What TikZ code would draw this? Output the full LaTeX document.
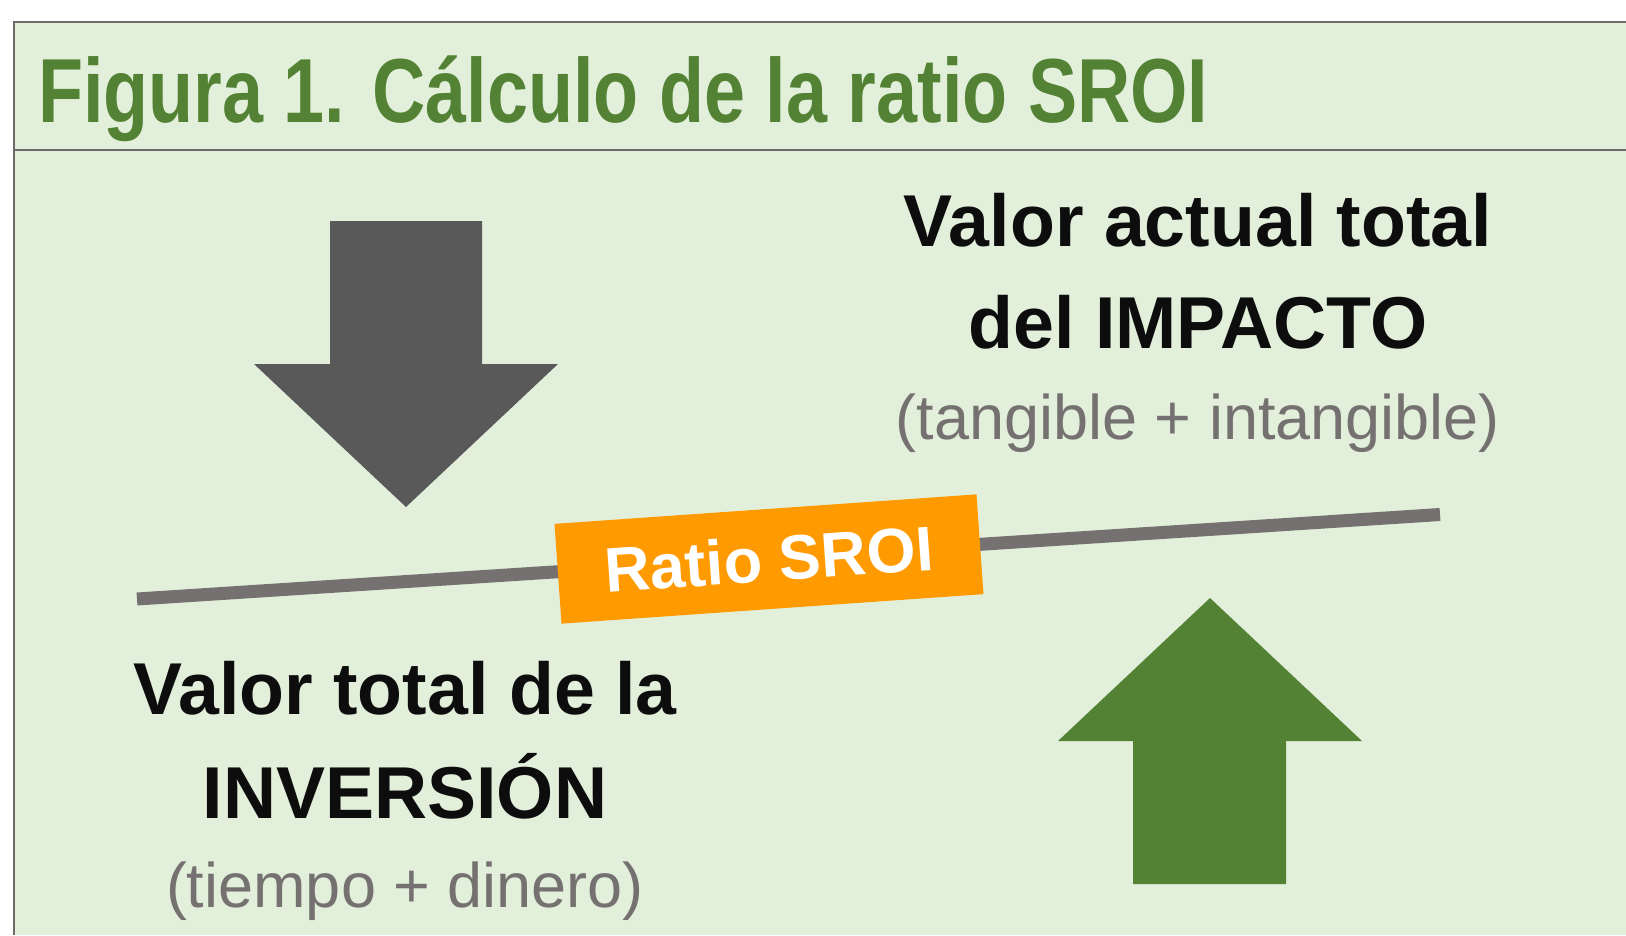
\documentclass[tikz,border=0pt]{standalone}
\usepackage{fontspec}
\setmainfont{Liberation Sans}
\newfontfamily\titlefont[FakeStretch=0.81]{Liberation Sans}
\definecolor{bg}{HTML}{E2EFDA}
\definecolor{framegray}{HTML}{6B6B6B}
\definecolor{titlegreen}{HTML}{548235}
\definecolor{txtgray}{HTML}{767171}
\definecolor{nearblack}{HTML}{0D0D0D}
\definecolor{darkarrow}{HTML}{595959}
\definecolor{sroiorange}{HTML}{FF9A00}
\tikzset{
  framestyle/.style={draw=framegray, line width=2pt},
  bigbold/.style={anchor=base, inner sep=0pt, text=nearblack, font=\bfseries\fontsize{73.5}{80}\selectfont},
  graytext/.style={anchor=base, inner sep=0pt, text=txtgray, font=\fontsize{63}{70}\selectfont},
  beam/.style={draw=txtgray, line width=13pt},
  ratiobox/.style={fill=sroiorange, rotate=4, minimum width=423pt, minimum height=100pt, inner sep=0pt, text=white, font=\bfseries\fontsize{63}{70}\selectfont}
}
\begin{document}
\begin{tikzpicture}[x=1pt,y=-1pt]
\useasboundingbox (0,0) rectangle (1626,935);
\fill[white] (0,0) rectangle (1626,935);
\fill[bg] (14,22) rectangle (1626,935);
\draw[framestyle] (1626,22) -- (14,22) -- (14,935);
\draw[framestyle] (14,150) -- (1626,150);

\node[anchor=base west, inner sep=0pt, text=titlegreen, font=\titlefont\bfseries\fontsize{91}{100}\selectfont] (title) at (38,122) {Figura 1. Cálculo de la ratio SROI};

% down arrow (investment)
\fill[darkarrow] (330,221) -- (482,221) -- (482,364) -- (558,364) -- (406,507) -- (254,364) -- (330,364) -- cycle;
% up arrow (impact)
\fill[titlegreen] (1133,884) -- (1286,884) -- (1286,741) -- (1362,741) -- (1210,598) -- (1058,741) -- (1133,741) -- cycle;

% beam
\coordinate (beamL) at (137,599);
\coordinate (beamR) at (1440,514.5);
\draw[beam] (beamL) -- (beamR);
\node[ratiobox] (ratio) at (769,559) {Ratio SROI};

% right text
\node[bigbold] (imp1) at (1198,246) {Valor actual total};
\node[bigbold] (imp2) at (1198,348) {del IMPACTO};
\node[graytext] (imp3) at (1198,439) {(tangible + intangible)};

% left text
\node[bigbold] (inv1) at (405,714) {Valor total de la};
\node[bigbold] (inv2) at (405,818) {INVERSIÓN};
\node[graytext] (inv3) at (405,907) {(tiempo + dinero)};
\end{tikzpicture}
\end{document}
